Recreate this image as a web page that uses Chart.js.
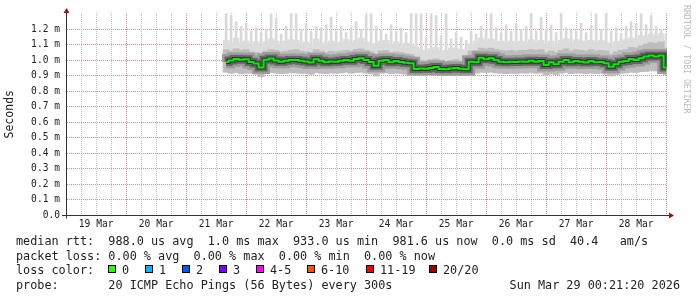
<!DOCTYPE html>
<html><head><meta charset="utf-8">
<script src="https://cdn.jsdelivr.net/npm/chart.js@4/dist/chart.umd.min.js"></script>
<style>
html,body{margin:0;padding:0;background:#fff;}
#wrap{position:relative;width:697px;height:297px;overflow:hidden;background:#fff;}
canvas{position:absolute;left:0;top:0;}
.t{position:absolute;font-family:"DejaVu Sans Mono",monospace;font-size:11.8px;line-height:14px;color:#222;white-space:pre;}
.sq{position:absolute;width:6px;height:6px;border:1px solid #000;top:265px;}
#wm{position:absolute;left:682px;top:5px;font-family:"DejaVu Sans Mono",monospace;font-size:8.2px;line-height:9px;color:#bbb;writing-mode:vertical-rl;white-space:pre;}
</style></head>
<body>
<div id="wrap">
<canvas id="c" width="697" height="297"></canvas>
<div id="wm">RRDTOOL / TOBI OETIKER</div>

<div class="t" style="left:16px;top:234px">median rtt:  988.0 us avg  1.0 ms max  933.0 us min  981.6 us now  0.0 ms sd  40.4   am/s</div>
<div class="t" style="left:16px;top:248.5px">packet loss: 0.00 % avg  0.00 % max  0.00 % min  0.00 % now</div>

<div class="t" style="left:16px;top:262.5px">loss color:</div>
<div class="sq" style="left:108px;background:#26ff00"></div><div class="t" style="left:122px;top:262.5px">0</div>
<div class="sq" style="left:145px;background:#00b8ff"></div><div class="t" style="left:159px;top:262.5px">1</div>
<div class="sq" style="left:182px;background:#0059ff"></div><div class="t" style="left:196px;top:262.5px">2</div>
<div class="sq" style="left:219px;background:#7e00ff"></div><div class="t" style="left:233px;top:262.5px">3</div>
<div class="sq" style="left:256px;background:#ff00ff"></div><div class="t" style="left:270px;top:262.5px">4-5</div>
<div class="sq" style="left:307px;background:#ff5500"></div><div class="t" style="left:321px;top:262.5px">6-10</div>
<div class="sq" style="left:366px;background:#ff0000"></div><div class="t" style="left:380px;top:262.5px">11-19</div>
<div class="sq" style="left:429px;background:#a10000"></div><div class="t" style="left:443px;top:262.5px">20/20</div>

<div class="t" style="left:16px;top:277.5px">probe:       20 ICMP Echo Pings (56 Bytes) every 300s</div>
<div class="t" style="right:17px;top:277.5px">Sun Mar 29 00:21:20 2026</div>
</div>
<script>
// hours since 19 Mar 00:00 (2-hour samples)
const sampleHours = [
 64,66,68,70,72,74,76,78,80,82,
 84,86,88,90,92,94,96,98,100,102,
 104,106,108,110,112,114,116,118,120,122,
 124,126,128,130,132,134,136,138,140,142,
 144,146,148,150,152,154,156,158,160,162,
 164,166,168,170,172,174,176,178,180,182,
 184,186,188,190,192,194,196,198,200,202,
 204,206,208,210,212,214,216,218,220,222,
 224,226,228,230,232,234,236,238,240];

// median rtt (ms)
const medianRtt = [
 0.990,1.000,1.010,1.004,1.008,0.990,0.980,0.955,1.004,1.012,
 1.000,0.992,0.998,1.003,1.003,0.998,0.994,0.986,1.008,0.998,
 0.988,0.994,0.992,0.998,1.003,0.998,1.010,1.014,1.003,0.990,
 0.965,0.998,1.003,0.988,0.996,0.990,0.985,0.982,0.945,0.948,
 0.946,0.952,0.958,0.945,0.943,0.948,0.952,0.946,0.943,0.992,
 0.988,1.018,1.008,1.014,1.003,0.992,0.988,0.992,0.990,0.994,
 0.992,0.998,0.992,0.996,0.970,0.988,0.975,0.992,1.003,0.988,
 0.996,0.992,0.986,0.996,0.988,0.990,0.982,0.960,0.976,0.992,
 0.996,1.010,1.003,1.014,1.025,1.032,1.025,1.032,0.955];

// lowest ping of the smoke (ms)
const lowerEdge = [
 0.925,0.918,0.922,0.915,0.920,0.918,0.912,0.895,0.918,0.922,
 0.920,0.915,0.918,0.922,0.920,0.916,0.918,0.912,0.922,0.918,
 0.915,0.920,0.918,0.920,0.924,0.918,0.922,0.925,0.920,0.915,
 0.900,0.918,0.920,0.914,0.918,0.915,0.912,0.910,0.905,0.908,
 0.906,0.910,0.912,0.905,0.904,0.908,0.910,0.906,0.905,0.920,
 0.918,0.925,0.922,0.924,0.920,0.918,0.915,0.918,0.916,0.920,
 0.918,0.922,0.918,0.920,0.905,0.915,0.910,0.918,0.922,0.915,
 0.920,0.918,0.914,0.920,0.916,0.918,0.912,0.900,0.910,0.918,
 0.920,0.925,0.922,0.928,0.930,0.935,0.932,0.935,0.910];

// top of the dense smoke (ms)
const upperDense = [
 1.070,1.060,1.075,1.065,1.070,1.055,1.050,1.040,1.060,1.070,
 1.065,1.055,1.060,1.065,1.070,1.060,1.055,1.050,1.070,1.060,
 1.050,1.058,1.055,1.060,1.065,1.060,1.070,1.075,1.065,1.055,
 1.040,1.060,1.065,1.050,1.055,1.050,1.045,1.040,1.005,1.000,
 0.998,1.005,1.010,0.998,0.995,1.000,1.005,0.998,0.995,1.060,
 1.065,1.080,1.075,1.080,1.070,1.065,1.060,1.065,1.060,1.065,
 1.065,1.070,1.065,1.070,1.050,1.060,1.050,1.065,1.075,1.060,
 1.070,1.065,1.060,1.070,1.060,1.065,1.060,1.040,1.055,1.065,
 1.070,1.085,1.080,1.095,1.105,1.115,1.110,1.120,1.080];

// top of the light smoke (ms)
const upperLight = [
 1.130,1.110,1.145,1.115,1.125,1.100,1.120,1.095,1.120,1.140,
 1.125,1.105,1.125,1.135,1.130,1.110,1.120,1.100,1.140,1.115,
 1.105,1.125,1.110,1.120,1.135,1.115,1.130,1.145,1.120,1.110,
 1.095,1.125,1.130,1.105,1.120,1.100,1.110,1.095,1.085,1.065,
 1.060,1.075,1.085,1.060,1.065,1.080,1.075,1.065,1.070,1.105,
 1.125,1.145,1.125,1.140,1.120,1.125,1.110,1.125,1.110,1.125,
 1.115,1.135,1.115,1.130,1.105,1.125,1.105,1.130,1.140,1.115,
 1.135,1.120,1.125,1.130,1.115,1.130,1.115,1.100,1.120,1.125,
 1.135,1.145,1.140,1.160,1.155,1.170,1.160,1.175,1.130];

// highest ping (ms)
const maxPing = [
 1.30,1.29,1.25,1.22,1.24,1.19,1.21,1.18,1.20,1.30,
 1.27,1.17,1.22,1.30,1.30,1.20,1.24,1.19,1.22,1.21,
 1.23,1.28,1.19,1.22,1.18,1.21,1.25,1.20,1.29,1.30,
 1.22,1.20,1.17,1.23,1.19,1.21,1.18,1.30,1.30,1.30,
 1.15,1.30,1.29,1.16,1.30,1.14,1.18,1.15,1.13,1.19,
 1.17,1.22,1.20,1.30,1.21,1.18,1.23,1.19,1.24,1.20,
 1.22,1.30,1.19,1.28,1.20,1.23,1.18,1.30,1.21,1.20,
 1.19,1.24,1.18,1.22,1.30,1.20,1.30,1.19,1.21,1.17,
 1.22,1.25,1.24,1.30,1.23,1.29,1.22,1.20,1.17];

const gridHours = [6,12,18,24,30,36,42,48,54,60,66,72,78,84,90,96,102,108,114,120,
 126,132,138,144,150,156,162,168,174,180,186,192,198,204,210,216,222,228,234,240];
const dayNoonHours = [12,36,60,84,108,132,156,180,204,228];
const dayLabels = ['19 Mar','20 Mar','21 Mar','22 Mar','23 Mar','24 Mar','25 Mar','26 Mar','27 Mar','28 Mar'];
const yTicks = [0,0.1,0.2,0.3,0.4,0.5,0.6,0.7,0.8,0.9,1.0,1.1,1.2];
const yTickLabels = ['0.0','0.1 m','0.2 m','0.3 m','0.4 m','0.5 m','0.6 m','0.7 m','0.8 m','0.9 m','1.0 m','1.1 m','1.2 m'];

const MONO = '"DejaVu Sans Mono", monospace';
const MAJOR = '#e08c8c', MINOR = '#c4c4c4';

const range = (lo, hi) => sampleHours.map((h, i) => ({x: h, y: [lo[i], hi[i]]}));
const medPts = sampleHours.map((h, i) => ({x: h, y: medianRtt[i]}));
const medLine = (color, w, order, stepped) => ({type: 'line', data: medPts, borderColor: color, borderWidth: w,
  pointRadius: 0, tension: 0, fill: false, stepped: stepped, borderJoinStyle: 'miter', order});

const axisPlugin = {
  id: 'rrdAxes',
  afterDraw(chart) {
    const {ctx, chartArea: a} = chart;
    const y0 = chart.scales.y.getPixelForValue(0);
    const yy = Math.floor(y0) + 0.5;
    ctx.save();
    ctx.strokeStyle = '#333'; ctx.lineWidth = 1; ctx.setLineDash([]);
    ctx.beginPath();
    ctx.moveTo(a.left - 5, yy); ctx.lineTo(a.right + 2, yy);
    ctx.moveTo(a.left - 0.5, y0 + 3); ctx.lineTo(a.left - 0.5, a.top);
    ctx.stroke();
    ctx.fillStyle = '#a01414';
    ctx.beginPath();
    ctx.moveTo(a.left - 0.5, a.top - 5); ctx.lineTo(a.left - 3.5, a.top); ctx.lineTo(a.left + 2.5, a.top); ctx.closePath();
    ctx.fill();
    ctx.beginPath();
    ctx.moveTo(a.right + 7, yy); ctx.lineTo(a.right + 2, yy - 3); ctx.lineTo(a.right + 2, yy + 3); ctx.closePath();
    ctx.fill();
    ctx.restore();
  }
};

Chart.defaults.font.family = MONO;
new Chart(document.getElementById('c'), {
  type: 'bar',
  data: {
    datasets: [
      {type: 'bar', data: range(lowerEdge, upperLight), backgroundColor: '#dcdcdc', barThickness: 6, grouped: false, order: 10},
      {type: 'bar', data: range(upperLight, maxPing), backgroundColor: '#d9d9d9', barThickness: 2, grouped: false, order: 9},
      {type: 'bar', data: range(lowerEdge, upperDense), backgroundColor: '#bdbdbd', barThickness: 6, grouped: false, order: 8},
      medLine('#9c9c9c', 13, 7, 'middle'),
      medLine('#666666', 8, 6, 'middle'),
      medLine('#2e2e2e', 4, 5, 'middle'),
      medLine('#00f000', 2, 1, 'middle')
    ]
  },
  options: {
    responsive: false, animation: false, devicePixelRatio: 1,
    layout: {padding: {left: 0, right: 30, top: 13, bottom: 0}},
    plugins: {legend: {display: false}, tooltip: {enabled: false}},
    scales: {
      x: {
        type: 'linear', min: 0.35, max: 240.35, offset: false,
        afterBuildTicks: s => { s.ticks = gridHours.map(v => ({value: v})); },
        afterFit: s => { s.height = 81.5; },
        ticks: {autoSkip: false, maxRotation: 0, minRotation: 0, padding: 3, color: '#222',
          font: {family: MONO, size: 9.6},
          callback: v => { const k = dayNoonHours.indexOf(v); return k >= 0 ? dayLabels[k] : ''; }},
        grid: {offset: false, drawTicks: false, lineWidth: 1,
          color: c => (c.tick && c.tick.value % 24 === 0) ? MAJOR : MINOR},
        border: {display: false, dash: [1, 1]}
      },
      y: {
        min: 0, max: 1.306,
        afterBuildTicks: s => { s.ticks = yTicks.map(v => ({value: v})); },
        afterFit: s => { s.width = 67; },
        ticks: {padding: 7, color: '#222', font: {family: MONO, size: 9.6},
          callback: (v, i) => yTickLabels[i]},
        grid: {drawTicks: false, lineWidth: 1, color: MAJOR},
        border: {display: false, dash: [1, 1]},
        title: {display: true, text: 'Seconds', color: '#222', font: {family: MONO, size: 11.5},
          padding: {top: 3, bottom: 0}}
      }
    }
  },
  plugins: [axisPlugin]
});
</script>
</body></html>
